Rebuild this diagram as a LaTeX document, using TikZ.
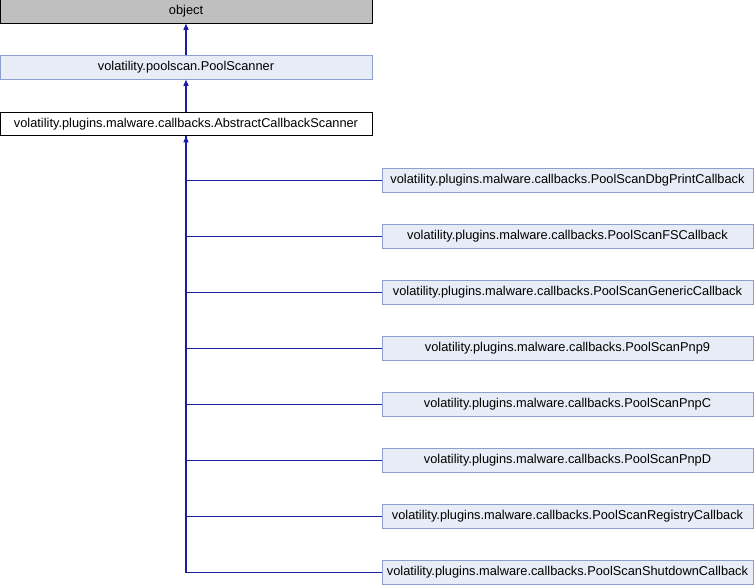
\documentclass[tikz,border=0pt]{standalone}
\usepackage{fontspec}
\setmainfont{Liberation Sans}
\usetikzlibrary{arrows.meta}
\definecolor{edgeblue}{HTML}{1C1CA8}
\definecolor{boxfill}{HTML}{E8ECF6}
\definecolor{boxline}{HTML}{8CA0D0}
\definecolor{objfill}{HTML}{BFBFBF}
\tikzset{
  cls/.style={draw, line width=1pt, minimum width=372pt, minimum height=23.5pt, inner sep=0pt, font=\fontsize{12.8}{14}\selectfont},
  objbox/.style={cls, fill=objfill, draw=black},
  basebox/.style={cls, fill=boxfill, draw=boxline},
  curbox/.style={cls, fill=white, draw=black},
  childbox/.style={cls, minimum width=371pt, fill=boxfill, draw=boxline},
  edge/.style={draw=edgeblue, line width=1.3pt, -{Triangle[length=6pt,width=5pt]}},
  link/.style={draw=edgeblue, line width=1.3pt}
}
\begin{document}
\begin{tikzpicture}[x=1pt,y=-1pt]
\useasboundingbox (0,0) rectangle (754,584);
\node[objbox] (obj) at (186,11.5) {object};
\node[basebox] (ps) at (186,67.5) {volatility.poolscan.PoolScanner};
\node[curbox] (abs) at (186,124) {volatility.plugins.malware.callbacks.AbstractCallbackScanner};
\draw[edge] (ps.north) -- (obj.south);
\draw[edge] (abs.north) -- (ps.south);
\foreach \n/\t [count=\k from 0] in {c1/PoolScanDbgPrintCallback, c2/PoolScanFSCallback, c3/PoolScanGenericCallback, c4/PoolScanPnp9, c5/PoolScanPnpC, c6/PoolScanPnpD, c7/PoolScanRegistryCallback, c8/PoolScanShutdownCallback}{
  \node[childbox] (\n) at (567.5,{180.5+56*\k}) {volatility.plugins.malware.callbacks.\t};
  \draw[link] (\n.west) -| (abs.south);
}
\draw[edge] (c8.west) -| (abs.south);
\end{tikzpicture}
\end{document}
